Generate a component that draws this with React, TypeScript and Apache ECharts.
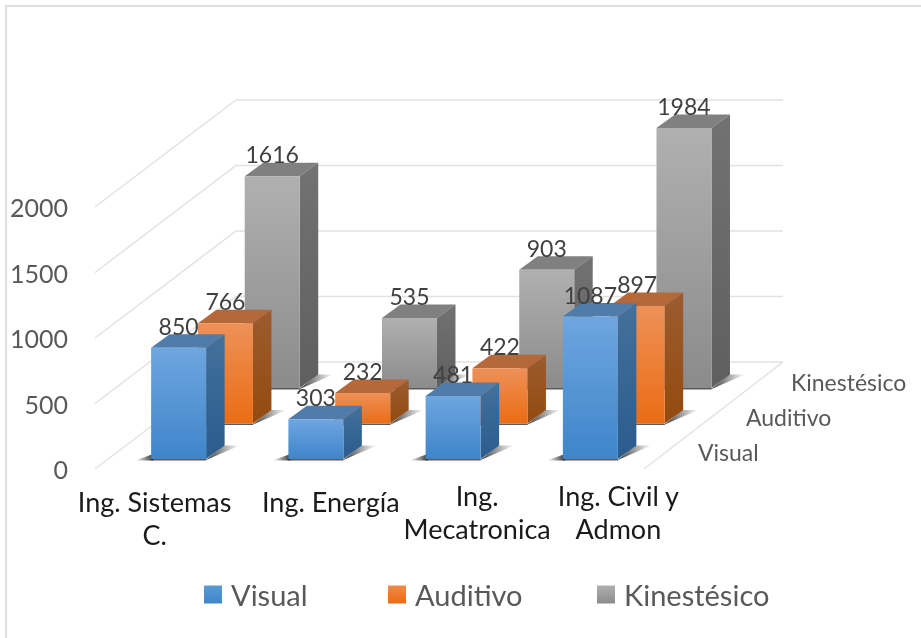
import React, { useEffect, useRef } from "react";
import * as echarts from "echarts";

const categories = ["Ing. Sistemas\nC.", "Ing. Energía", "Ing.\nMecatronica", "Ing. Civil y\nAdmon"];
const visual = [850, 303, 481, 1087];
const auditivo = [766, 232, 422, 897];
const kinestesico = [1616, 535, 903, 1984];
const yTicks = [0, 500, 1000, 1500, 2000];
const depthNames = ["Visual", "Auditivo", "Kinestésico"];

const FONT = "Lato, Carlito, sans-serif";
const BAR_W = 55;
const BOX_DX = 18.5;
const BOX_DY = 13.5;
const STEP_DX = 46.8;
const STEP_DY = 35.5;
const START_DX = 15;
const START_DY = 10;
const WALL_DX = 141;
const WALL_DY = 107;
const LINE = "#e2e2e2";

const grad = (a: string, b: string, horizontal = false) =>
  new echarts.graphic.LinearGradient(0, 0, horizontal ? 1 : 0, horizontal ? 0 : 1, [
    { offset: 0, color: a },
    { offset: 1, color: b },
  ]);

const palettes = [
  { front: ["#6ea6e0", "#3f85ca"], side: ["#44709c", "#2a5c8d"], top: "#4f7cab", legend: ["#5b9bd5", "#3f85ca"] },
  { front: ["#ee9158", "#eb6c14"], side: ["#9c5c30", "#934a0e"], top: "#b5683a", legend: ["#f08a4a", "#eb6c14"] },
  { front: ["#b0b0b0", "#8b8b8b"], side: ["#727272", "#5f5f5f"], top: "#808080", legend: ["#b0b0b0", "#8b8b8b"] },
];

function barRenderer(depth: number) {
  const pal = palettes[depth];
  return (_params: any, api: any) => {
    const idx = api.value(0);
    const val = api.value(1);
    const base = api.coord([idx, 0]);
    const head = api.coord([idx, val]);
    const dx = START_DX + depth * STEP_DX;
    const dy = START_DY + depth * STEP_DY;
    const cx = base[0] + dx;
    const x0 = cx - BAR_W / 2;
    const x1 = cx + BAR_W / 2;
    const yb = base[1] - dy;
    const yt = head[1] - dy;
    return {
      type: "group",
      children: [
        {
          type: "polygon",
          shape: { points: [[x0 - 16, yb + 1.5], [x0 + 2, yb - 5], [x0 + 2, yb + 1.5]] },
          style: { fill: grad("rgba(60,60,60,0)", "rgba(40,40,40,0.95)", true) },
        },
        {
          type: "polygon",
          shape: {
            points: [
              [x1 - 1, yb + 1.5],
              [x1 + BOX_DX - 1, yb - BOX_DY],
              [x1 + BOX_DX + 15, yb - BOX_DY],
            ],
          },
          style: { fill: grad("rgba(40,40,40,0.95)", "rgba(60,60,60,0)", true) },
        },
        {
          type: "rect",
          shape: { x: x0, y: yb, width: BAR_W, height: 1.5 },
          style: { fill: "rgba(50,50,50,0.8)" },
        },
        {
          type: "polygon",
          shape: { points: [[x0, yt], [x1, yt], [x1 + BOX_DX, yt - BOX_DY], [x0 + BOX_DX, yt - BOX_DY]] },
          style: { fill: pal.top },
        },
        {
          type: "polygon",
          shape: { points: [[x1, yt], [x1 + BOX_DX, yt - BOX_DY], [x1 + BOX_DX, yb - BOX_DY], [x1, yb]] },
          style: { fill: grad(pal.side[0], pal.side[1]) },
        },
        {
          type: "rect",
          shape: { x: x0, y: yt, width: BAR_W, height: yb - yt },
          style: { fill: grad(pal.front[0], pal.front[1]) },
        },
        {
          type: "text",
          style: {
            text: String(val),
            x: cx,
            y: yt - 22,
            align: "center",
            verticalAlign: "middle",
            fill: "#404040",
            fontFamily: FONT,
            fontSize: 23,
          },
        },
      ],
    };
  };
}

function wallRenderer(params: any, api: any) {
  const left = params.coordSys.x;
  const right = left + params.coordSys.width;
  const y = api.coord([0, api.value(0)])[1];
  const children: any[] = [
    {
      type: "polyline",
      shape: { points: [[left, y], [left + WALL_DX, y - WALL_DY], [right + WALL_DX - 2, y - WALL_DY]] },
      style: { stroke: LINE, lineWidth: 1.5, fill: "none" },
    },
  ];
  if (api.value(0) === 0) {
    children.push({
      type: "line",
      shape: { x1: right, y1: y, x2: right + WALL_DX - 2, y2: y - WALL_DY },
      style: { stroke: LINE, lineWidth: 1.5 },
    });
  }
  return { type: "group", children };
}

const labelShift = [
  { padding: [6, 18, 0, 0] },
  { padding: [6, 0, 0, 60] },
  { padding: [0, 0, 0, 78] },
  { padding: [0, 0, 0, 86] },
];
const legendLeft = [199, 383, 592];
const depthLabelPos = [
  [698, 452],
  [746, 417],
  [791, 382],
];

export default function App() {
  const ref = useRef<HTMLDivElement>(null);
  useEffect(() => {
    const chart = echarts.init(ref.current!, null, { renderer: "svg" });
    const seriesValues = [visual, auditivo, kinestesico];
    const barSeries = [2, 1, 0].map((d) => ({
      type: "custom",
      name: depthNames[d],
      renderItem: barRenderer(d),
      itemStyle: { color: grad(palettes[d].legend[0], palettes[d].legend[1]) },
      encode: { x: 0, y: 1 },
      data: seriesValues[d].map((v, i) => [i, v]),
      z: 3,
    }));
    chart.setOption({
      animation: false,
      backgroundColor: "#ffffff",
      textStyle: { fontFamily: FONT },
      grid: { left: 95, width: 549, top: 207, height: 262, containLabel: false },
      xAxis: {
        type: "category",
        data: categories.map((c, i) => ({
          value: c,
          textStyle: { padding: labelShift[i].padding },
        })),
        axisLine: { show: false },
        axisTick: { show: false },
        axisLabel: {
          interval: 0,
          margin: 10,
          color: "#1a1a1a",
          fontFamily: FONT,
          fontSize: 27,
          lineHeight: 33,
          hideOverlap: false,
        },
      },
      yAxis: {
        type: "value",
        min: 0,
        max: 2000,
        interval: 500,
        axisLine: { show: false },
        axisTick: { show: false },
        splitLine: { show: false },
        axisLabel: {
          margin: 27,
          color: "#595959",
          fontFamily: FONT,
          fontSize: 25,
          formatter: (v: number) => String(v),
        },
      },
      legend: depthNames.map((n, i) => ({
        data: [n],
        left: legendLeft[i],
        top: 575,
        icon: "rect",
        itemWidth: 18,
        itemHeight: 18,
        textStyle: { color: "#595959", fontFamily: FONT, fontSize: 29, padding: [0, 0, 0, 4] },
        selectedMode: false,
      })),
      series: [
        {
          type: "custom",
          name: "grid",
          renderItem: wallRenderer,
          encode: { y: 0 },
          data: yTicks.map((t) => [t]),
          z: 1,
          silent: true,
        },
        ...barSeries,
      ],
      graphic: [
        {
          type: "polyline",
          shape: { points: [[6, 638], [6, 6], [921, 6]] },
          style: { stroke: "#e0e0e0", lineWidth: 2, fill: "none" },
          silent: true,
        },
        ...depthNames.map((n, i) => ({
          type: "text",
          x: depthLabelPos[i][0],
          y: depthLabelPos[i][1],
          style: {
            text: n,
            fill: "#595959",
            fontFamily: FONT,
            fontSize: 23,
            verticalAlign: "middle",
          },
          silent: true,
        })),
      ],
    });
    return () => chart.dispose();
  }, []);
  return (
    <div
      ref={ref}
      style={{ position: "absolute", left: 0, top: 0, width: 921, height: 638, filter: "blur(0.4px)" }}
    />
  );
}
